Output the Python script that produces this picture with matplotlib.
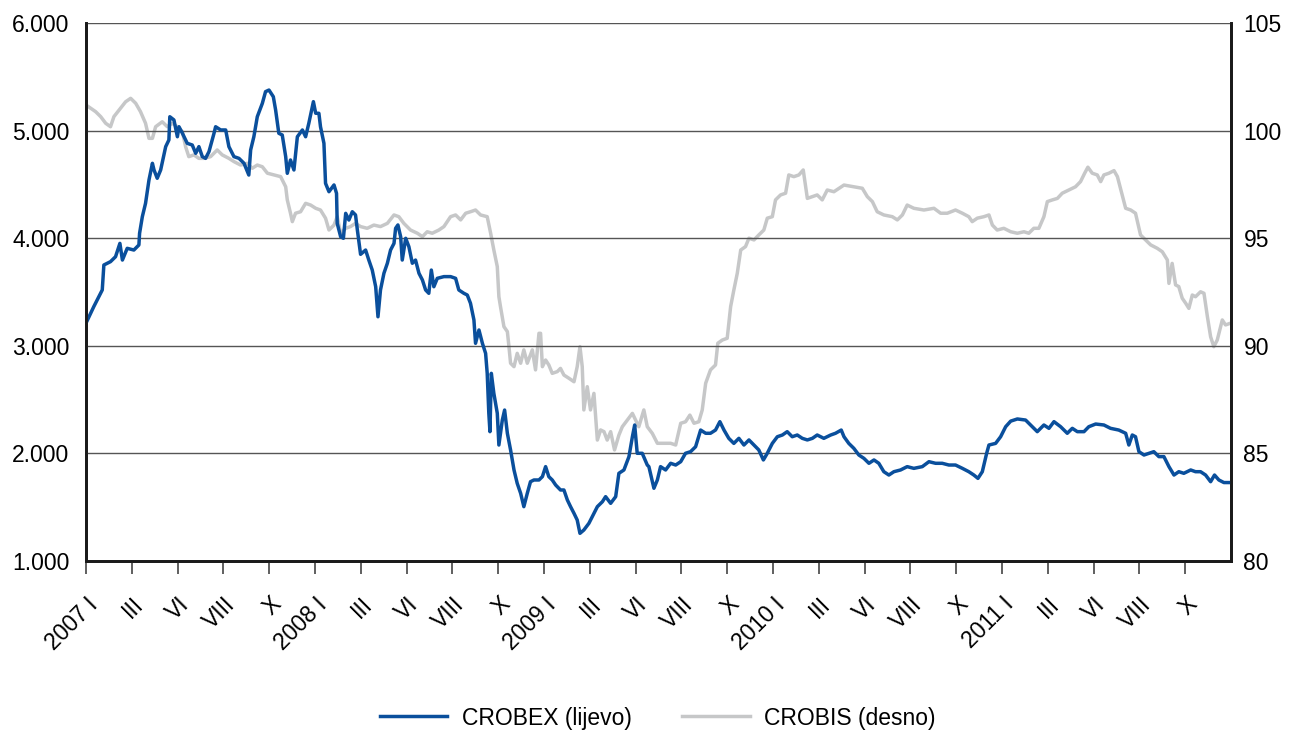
import matplotlib
matplotlib.use("Agg")
import matplotlib.pyplot as plt
from matplotlib.ticker import FuncFormatter

# ---- data (decimal years) ----
crobex_t = [2007.003, 2007.034, 2007.056, 2007.071, 2007.078, 2007.107, 2007.129, 2007.148, 2007.159, 2007.180,
            2007.209, 2007.231, 2007.234, 2007.246, 2007.260, 2007.275, 2007.290, 2007.297, 2007.311, 2007.326,
            2007.348, 2007.362, 2007.366, 2007.384, 2007.399, 2007.406, 2007.421, 2007.442, 2007.464, 2007.479,
            2007.493, 2007.508, 2007.522, 2007.537, 2007.559, 2007.566, 2007.588, 2007.610, 2007.624, 2007.646,
            2007.668, 2007.690, 2007.711, 2007.719, 2007.733, 2007.748, 2007.770, 2007.784, 2007.799, 2007.818,
            2007.828, 2007.842, 2007.857, 2007.872, 2007.879, 2007.893, 2007.908, 2007.923, 2007.945, 2007.959,
            2007.973, 2007.993, 2008.003, 2008.017, 2008.024, 2008.039, 2008.046, 2008.061, 2008.083, 2008.094,
            2008.097, 2008.112, 2008.124, 2008.134, 2008.148, 2008.163, 2008.177, 2008.185, 2008.199, 2008.221,
            2008.235, 2008.250, 2008.265, 2008.275, 2008.286, 2008.301, 2008.316, 2008.330, 2008.345, 2008.352,
            2008.362, 2008.374, 2008.381, 2008.396, 2008.410, 2008.425, 2008.439, 2008.454, 2008.469, 2008.483,
            2008.497, 2008.508, 2008.519, 2008.534, 2008.563, 2008.592, 2008.614, 2008.628, 2008.650, 2008.665,
            2008.679, 2008.694, 2008.701, 2008.716, 2008.731, 2008.745, 2008.752, 2008.759, 2008.764, 2008.770,
            2008.781, 2008.796, 2008.803, 2008.818, 2008.828, 2008.840, 2008.854, 2008.869, 2008.883, 2008.898,
            2008.912, 2008.927, 2008.941, 2008.956, 2008.978, 2008.993, 2009.007, 2009.021, 2009.036, 2009.051,
            2009.072, 2009.087, 2009.102, 2009.116, 2009.131, 2009.145, 2009.157, 2009.174, 2009.196, 2009.211,
            2009.233, 2009.255, 2009.269, 2009.291, 2009.313, 2009.327, 2009.349, 2009.371, 2009.386, 2009.396,
            2009.407, 2009.429, 2009.451, 2009.458, 2009.480, 2009.495, 2009.509, 2009.531, 2009.553, 2009.575,
            2009.597, 2009.618, 2009.640, 2009.662, 2009.684, 2009.706, 2009.727, 2009.749, 2009.768, 2009.786,
            2009.807, 2009.829, 2009.851, 2009.873, 2009.895, 2009.917, 2009.938, 2009.958, 2009.975, 2009.997,
            2010.019, 2010.041, 2010.062, 2010.084, 2010.106, 2010.128, 2010.150, 2010.172, 2010.193, 2010.222,
            2010.252, 2010.273, 2010.298, 2010.310, 2010.331, 2010.353, 2010.375, 2010.397, 2010.419, 2010.441,
            2010.462, 2010.484, 2010.506, 2010.528, 2010.557, 2010.586, 2010.615, 2010.652, 2010.681, 2010.710,
            2010.739, 2010.768, 2010.797, 2010.827, 2010.855, 2010.877, 2010.895, 2010.914, 2010.933, 2010.943,
            2010.972, 2010.994, 2011.016, 2011.038, 2011.067, 2011.103, 2011.125, 2011.154, 2011.183, 2011.205,
            2011.227, 2011.256, 2011.285, 2011.307, 2011.329, 2011.358, 2011.379, 2011.409, 2011.445, 2011.474,
            2011.510, 2011.540, 2011.554, 2011.569, 2011.583, 2011.598, 2011.620, 2011.642, 2011.663, 2011.685,
            2011.707, 2011.729, 2011.751, 2011.772, 2011.794, 2011.824, 2011.845, 2011.867, 2011.889, 2011.911,
            2011.928, 2011.947, 2011.969, 2011.998]
crobex_v = [3224, 3364, 3456, 3519, 3751, 3782, 3828, 3952, 3797, 3906,
            3890, 3937, 4046, 4200, 4324, 4541, 4696, 4634, 4557, 4634,
            4851, 4913, 5129, 5099, 4943, 5036, 4975, 4882, 4866, 4789,
            4851, 4758, 4742, 4804, 4975, 5036, 5006, 5006, 4851, 4758,
            4742, 4696, 4587, 4820, 4943, 5129, 5253, 5362, 5377, 5315,
            5192, 4975, 4959, 4758, 4603, 4727, 4634, 4943, 5006, 4943,
            5068, 5269, 5161, 5161, 5036, 4882, 4510, 4432, 4495, 4417,
            4138, 4014, 3999, 4231, 4169, 4246, 4216, 4076, 3850, 3890,
            3797, 3704, 3549, 3270, 3519, 3674, 3767, 3890, 3952, 4092,
            4123, 4014, 3797, 3999, 3921, 3767, 3797, 3674, 3612, 3519,
            3488, 3704, 3549, 3627, 3643, 3643, 3627, 3519, 3488, 3472,
            3395, 3240, 3023, 3147, 3023, 2930, 2744, 2373, 2202, 2744,
            2558, 2373, 2078, 2310, 2403, 2187, 2032, 1846, 1722, 1629,
            1505, 1629, 1737, 1753, 1753, 1784, 1877, 1784, 1753, 1706,
            1660, 1660, 1567, 1505, 1443, 1381, 1257, 1288, 1350, 1412,
            1505, 1551, 1598, 1536, 1598, 1815, 1846, 1970, 2155, 2264,
            2001, 2001, 1892, 1877, 1676, 1753, 1877, 1846, 1908, 1892,
            1923, 2001, 2016, 2062, 2217, 2187, 2187, 2217, 2295, 2217,
            2140, 2093, 2140, 2078, 2125, 2078, 2032, 1939, 2001, 2093,
            2155, 2171, 2202, 2155, 2171, 2140, 2125, 2140, 2171, 2140,
            2171, 2187, 2217, 2155, 2093, 2047, 1985, 1954, 1908, 1939,
            1908, 1830, 1799, 1830, 1846, 1877, 1861, 1877, 1923, 1908,
            1908, 1892, 1892, 1861, 1830, 1799, 1768, 1830, 2001, 2078,
            2093, 2155, 2248, 2300, 2320, 2310, 2264, 2202, 2264, 2233,
            2295, 2248, 2187, 2233, 2202, 2202, 2248, 2273, 2264, 2233,
            2217, 2187, 2078, 2171, 2155, 2016, 1985, 2001, 2016, 1970,
            1970, 1877, 1799, 1830, 1815, 1846, 1830, 1830, 1799, 1737,
            1799, 1753, 1729, 1729]

crobis_t = [2007.000, 2007.020, 2007.042, 2007.064, 2007.086, 2007.107, 2007.122, 2007.151, 2007.173, 2007.195,
            2007.217, 2007.238, 2007.260, 2007.275, 2007.290, 2007.304, 2007.333, 2007.355, 2007.377, 2007.399,
            2007.421, 2007.435, 2007.449, 2007.471, 2007.493, 2007.515, 2007.544, 2007.573, 2007.595, 2007.624,
            2007.646, 2007.675, 2007.704, 2007.726, 2007.748, 2007.770, 2007.792, 2007.821, 2007.850, 2007.872,
            2007.879, 2007.893, 2007.901, 2007.915, 2007.937, 2007.959, 2007.981, 2008.003, 2008.024, 2008.046,
            2008.061, 2008.083, 2008.097, 2008.112, 2008.134, 2008.155, 2008.177, 2008.199, 2008.228, 2008.257,
            2008.286, 2008.316, 2008.345, 2008.366, 2008.388, 2008.417, 2008.447, 2008.469, 2008.490, 2008.512,
            2008.541, 2008.563, 2008.592, 2008.614, 2008.636, 2008.658, 2008.679, 2008.701, 2008.723, 2008.752,
            2008.767, 2008.781, 2008.796, 2008.803, 2008.810, 2008.825, 2008.840, 2008.847, 2008.854, 2008.869,
            2008.883, 2008.898, 2008.912, 2008.927, 2008.949, 2008.963, 2008.978, 2008.985, 2008.993, 2009.007,
            2009.021, 2009.036, 2009.058, 2009.072, 2009.087, 2009.109, 2009.131, 2009.145, 2009.157, 2009.167,
            2009.174, 2009.189, 2009.203, 2009.218, 2009.233, 2009.247, 2009.262, 2009.276, 2009.291, 2009.308,
            2009.327, 2009.342, 2009.364, 2009.386, 2009.400, 2009.414, 2009.436, 2009.451, 2009.473, 2009.495,
            2009.524, 2009.553, 2009.575, 2009.597, 2009.618, 2009.637, 2009.655, 2009.676, 2009.691, 2009.706,
            2009.727, 2009.749, 2009.759, 2009.779, 2009.800, 2009.815, 2009.829, 2009.844, 2009.859, 2009.880,
            2009.895, 2009.917, 2009.938, 2009.960, 2009.975, 2009.997, 2010.011, 2010.033, 2010.055, 2010.069,
            2010.091, 2010.113, 2010.132, 2010.150, 2010.172, 2010.193, 2010.215, 2010.237, 2010.266, 2010.310,
            2010.353, 2010.390, 2010.412, 2010.434, 2010.455, 2010.484, 2010.521, 2010.543, 2010.565, 2010.586,
            2010.615, 2010.659, 2010.703, 2010.732, 2010.761, 2010.797, 2010.827, 2010.855, 2010.870, 2010.892,
            2010.921, 2010.943, 2010.958, 2010.979, 2011.008, 2011.038, 2011.067, 2011.096, 2011.117, 2011.139,
            2011.161, 2011.183, 2011.198, 2011.220, 2011.242, 2011.263, 2011.292, 2011.321, 2011.343, 2011.361,
            2011.375, 2011.394, 2011.416, 2011.431, 2011.445, 2011.467, 2011.489, 2011.504, 2011.521, 2011.540,
            2011.562, 2011.583, 2011.605, 2011.627, 2011.649, 2011.678, 2011.700, 2011.722, 2011.729, 2011.743,
            2011.758, 2011.772, 2011.787, 2011.802, 2011.816, 2011.831, 2011.845, 2011.867, 2011.882, 2011.897,
            2011.911, 2011.925, 2011.940, 2011.962, 2011.976, 2011.998]
crobis_v = [101.19, 101.04, 100.88, 100.65, 100.34, 100.18, 100.65, 101.04, 101.34, 101.50,
            101.27, 100.88, 100.34, 99.64, 99.64, 100.18, 100.41, 100.18, 100.34, 100.18,
            99.95, 99.25, 98.79, 98.87, 98.71, 98.71, 98.79, 99.10, 98.87, 98.71,
            98.56, 98.40, 98.48, 98.25, 98.40, 98.32, 98.02, 97.94, 97.86, 97.39,
            96.78, 96.16, 95.77, 96.16, 96.23, 96.62, 96.54, 96.39, 96.31, 95.93,
            95.38, 95.61, 96.00, 95.23, 95.46, 95.54, 95.69, 95.54, 95.46, 95.61,
            95.54, 95.69, 96.08, 96.00, 95.69, 95.38, 95.23, 95.07, 95.30, 95.23,
            95.38, 95.54, 96.00, 96.08, 95.85, 96.16, 96.23, 96.31, 96.08, 96.00,
            95.23, 94.45, 93.68, 92.28, 91.82, 90.89, 90.66, 89.96, 89.19, 89.03,
            89.65, 89.19, 89.81, 89.19, 89.81, 88.88, 90.58, 90.58, 89.03, 89.34,
            89.11, 88.72, 88.80, 88.95, 88.64, 88.49, 88.33, 89.03, 89.96, 89.03,
            87.02, 88.10, 87.02, 87.79, 85.62, 86.09, 86.01, 85.62, 86.01, 85.16,
            85.85, 86.24, 86.55, 86.86, 86.55, 86.24, 87.02, 86.24, 85.93, 85.47,
            85.47, 85.47, 85.39, 86.40, 86.47, 86.78, 86.40, 86.47, 87.02, 88.26,
            88.88, 89.11, 90.12, 90.27, 90.35, 91.82, 92.59, 93.37, 94.45, 94.61,
            95.00, 94.92, 95.15, 95.38, 95.93, 96.00, 96.78, 97.01, 97.09, 97.94,
            97.86, 97.94, 98.17, 96.85, 96.93, 97.01, 96.78, 97.24, 97.16, 97.47,
            97.39, 97.32, 96.93, 96.70, 96.23, 96.08, 96.00, 95.85, 96.08, 96.54,
            96.39, 96.31, 96.39, 96.16, 96.16, 96.31, 96.16, 96.00, 95.77, 95.93,
            96.00, 96.08, 95.61, 95.38, 95.46, 95.30, 95.23, 95.30, 95.23, 95.46,
            95.46, 96.00, 96.70, 96.78, 96.85, 97.09, 97.24, 97.39, 97.63, 98.02,
            98.30, 98.02, 97.94, 97.63, 97.94, 98.02, 98.14, 97.86, 97.16, 96.39,
            96.31, 96.16, 95.15, 94.92, 94.69, 94.53, 94.37, 93.99, 92.90, 93.83,
            92.83, 92.75, 92.21, 91.98, 91.74, 92.36, 92.28, 92.51, 92.44, 91.35,
            90.42, 89.96, 90.27, 91.20, 90.97, 91.05]

years = [2007, 2008, 2009, 2010, 2011]
month_labels = ["I", "III", "VI", "VIII", "X"]
left_ticks = [1000, 2000, 3000, 4000, 5000, 6000]
right_ticks = [80, 85, 90, 95, 100, 105]
series_names = ["CROBEX (lijevo)", "CROBIS (desno)"]

BLUE = "#0a4f9c"
GRAY = "#c6c7c8"
FONT = "Liberation Sans"
FS = 16.5

plt.rcParams["font.family"] = [FONT, "DejaVu Sans"]

fig = plt.figure(figsize=(13.03, 7.33), dpi=100)
ax = fig.add_axes([86/1303, 1-561/733, (1231-86)/1303, (561-23)/733])
ax2 = ax.twinx()

l2, = ax2.plot(crobis_t, crobis_v, color=GRAY, lw=2.5, label=series_names[1], solid_joinstyle="round")
l1, = ax.plot(crobex_t, crobex_v, color=BLUE, lw=2.5, label=series_names[0], solid_joinstyle="round")
ax.set_zorder(ax2.get_zorder() + 1)
ax.patch.set_visible(False)

ax.set_xlim(2007.0, 2012.0)
ax.set_ylim(1000, 6000)
ax2.set_ylim(80, 105)

ax.set_yticks(left_ticks)
ax.yaxis.set_major_formatter(FuncFormatter(lambda v, p: f"{int(v):,}".replace(",", ".")))
ax2.set_yticks(right_ticks)

xt, xl = [], []
for y in years:
    for k, m in enumerate(month_labels):
        xt.append(y + k * 0.2)
        xl.append(f"{y} {m}" if k == 0 else m)
ax.set_xticks(xt)
ax.set_xticklabels(xl, rotation=45, ha="right", rotation_mode="anchor", fontsize=FS)
ax.tick_params(axis="x", length=9, width=1.2, color="#444444", pad=14, direction="out")
ax.tick_params(axis="y", length=0, labelsize=FS, pad=12)
ax2.tick_params(axis="y", length=0, labelsize=FS, pad=9)

ax.grid(axis="y", color="#555555", lw=1.0)
ax.set_axisbelow(True)
ax.spines["top"].set_visible(False)
ax2.spines["top"].set_visible(False)
for a in (ax, ax2):
    for s in ["left", "right", "bottom"]:
        a.spines[s].set_linewidth(2)
        a.spines[s].set_color("#1a1a1a")

fig.legend([l1, l2], series_names, loc="center", bbox_to_anchor=(0.505, 1-718/733),
           ncol=2, frameon=False, fontsize=FS, handlelength=2.93, columnspacing=2.2,
           handletextpad=0.65)

fig.savefig("out.png", dpi=100)
